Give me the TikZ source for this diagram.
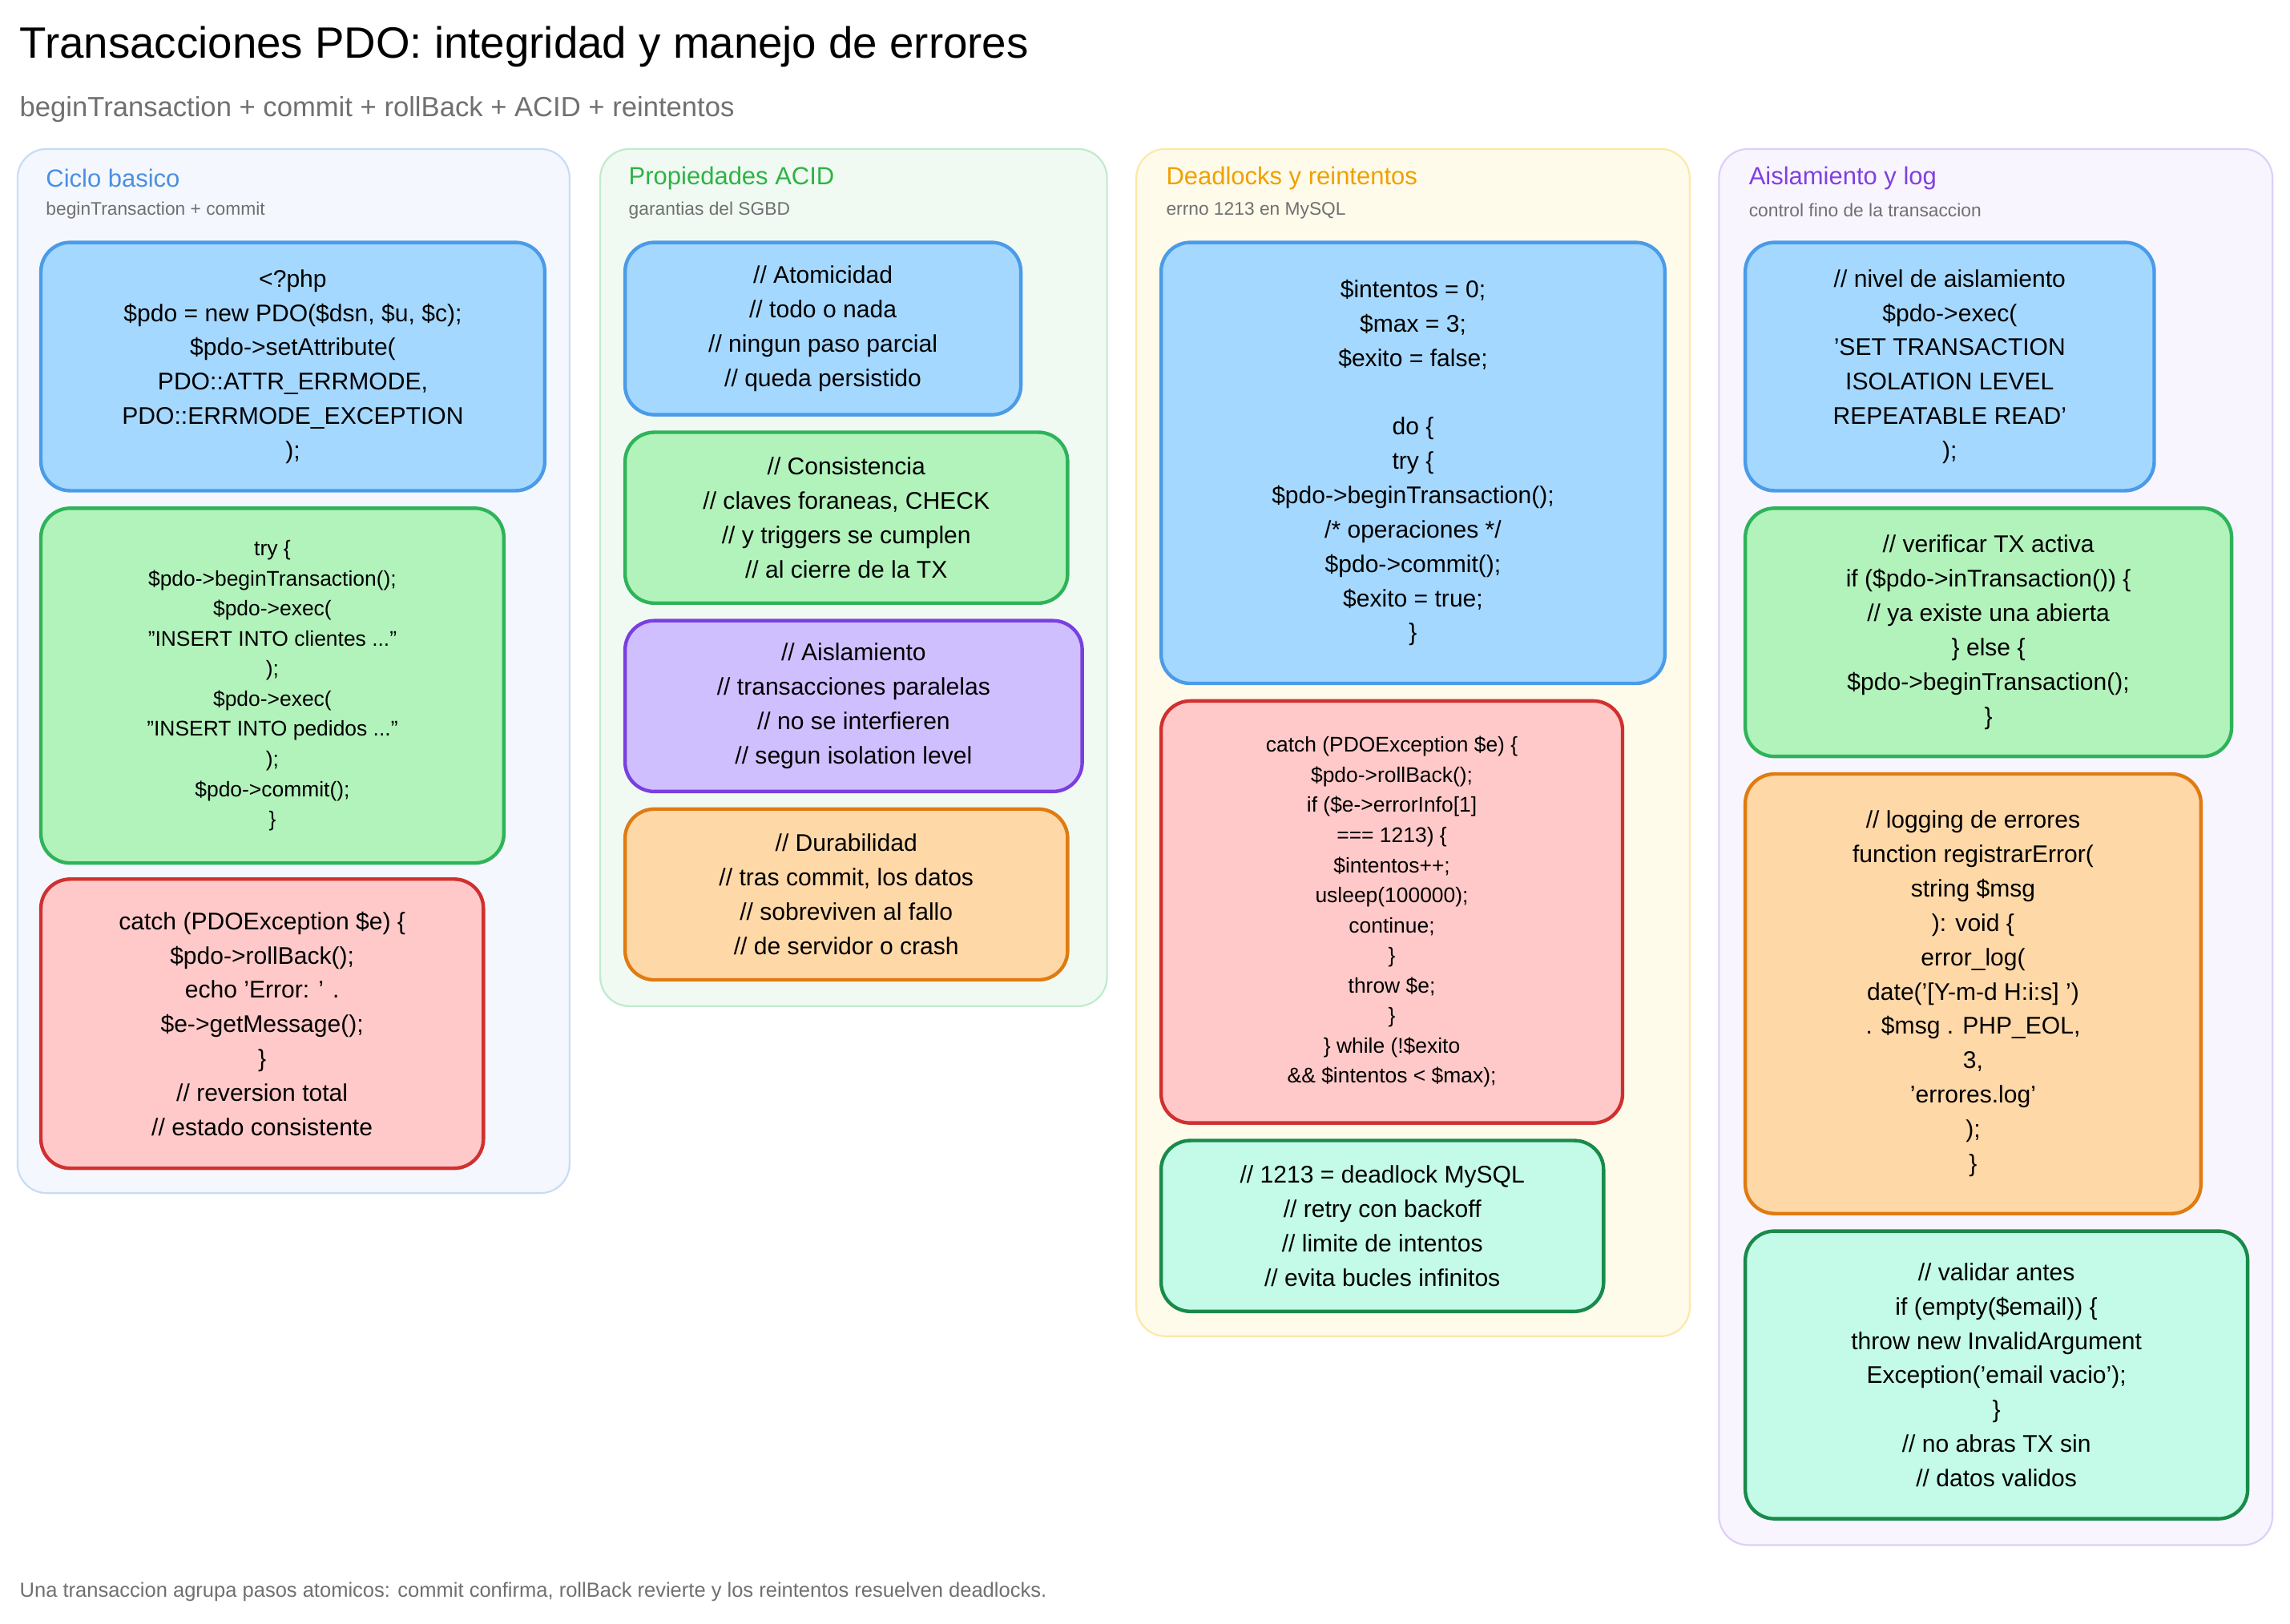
\documentclass[tikz,border=0pt]{standalone}
\usepackage{fontspec}
\setmainfont{Liberation Sans}
\begin{document}
\definecolor{bfill}{HTML}{A5D8FF}\definecolor{bdraw}{HTML}{4A9BE8}
\definecolor{gfill}{HTML}{B2F2BB}\definecolor{gdraw}{HTML}{2FB35A}
\definecolor{rfill}{HTML}{FFC9C9}\definecolor{rdraw}{HTML}{D03030}
\definecolor{pfill}{HTML}{D0BFFF}\definecolor{pdraw}{HTML}{7A3FE0}
\definecolor{ofill}{HTML}{FFD8A8}\definecolor{odraw}{HTML}{E07B10}
\definecolor{tfill}{HTML}{C3FAE8}\definecolor{tdraw}{HTML}{198A4A}
\definecolor{subgray}{HTML}{707070}
\begin{tikzpicture}[x=1pt,y=-1pt,
  panel/.style={rounded corners=20pt,line width=1.2pt},
  ptitle/.style={anchor=west,font=\fontsize{17}{20}\selectfont},
  psub/.style={anchor=west,font=\fontsize{12.5}{15}\selectfont,text=subgray},
  box/.style={rounded corners=20pt,line width=2.4pt,align=center,inner sep=0pt,font=\fontsize{16.5}{23.5}\selectfont},
  small/.style={font=\fontsize{14.5}{20.6}\selectfont},
  B/.style={box,fill=bfill,draw=bdraw},
  G/.style={box,fill=gfill,draw=gdraw},
  R/.style={box,fill=rfill,draw=rdraw},
  P/.style={box,fill=pfill,draw=pdraw},
  O/.style={box,fill=ofill,draw=odraw},
  T/.style={box,fill=tfill,draw=tdraw}]
\useasboundingbox[fill=white] (0,0) rectangle (1568,1112);
\node[anchor=west,font=\fontsize{30}{34}\selectfont] (title) at (10,32) {Transacciones PDO: integridad y manejo de errores};
\node[anchor=west,font=\fontsize{19}{22}\selectfont,text=subgray] (sub) at (10,75) {beginTransaction + commit + rollBack + ACID + reintentos};
% panels
\draw[panel,fill={rgb,255:red,244;green,247;blue,253},draw={rgb,255:red,200;green,220;blue,245}] (12,102) rectangle (390,817);
\draw[panel,fill={rgb,255:red,240;green,250;blue,243},draw={rgb,255:red,192;green,235;blue,204}] (411,102) rectangle (758,689);
\draw[panel,fill={rgb,255:red,255;green,251;blue,235},draw={rgb,255:red,253;green,232;blue,168}] (778,102) rectangle (1157,915);
\draw[panel,fill={rgb,255:red,248;green,245;blue,255},draw={rgb,255:red,221;green,208;blue,250}] (1177,102) rectangle (1556,1058);
\node[ptitle,text={rgb,255:red,74;green,144;blue,226}] (t1) at (28,122) {Ciclo basico};
\node[psub] (s1) at (28,144) {beginTransaction + commit};
\node[ptitle,text={rgb,255:red,47;green,179;blue,68}] (t2) at (427,122) {Propiedades ACID};
\node[psub] (s2) at (427,144) {garantias del SGBD};
\node[ptitle,text={rgb,255:red,240;green,160;blue,0}] (t3) at (795,122) {Deadlocks y reintentos};
\node[psub] (s3) at (795,144) {errno 1213 en MySQL};
\node[ptitle,text={rgb,255:red,128;green,64;blue,224}] (t4) at (1194,122) {Aislamiento y log};
\node[psub] (s4) at (1194,144) {control fino de la transaccion};
% column 1
\node[B,minimum width=345,minimum height=170] (a1) at (200.5,251) {<?php\\ \$pdo = new PDO(\$dsn, \$u, \$c);\\ \$pdo->setAttribute(\\ PDO::ATTR\_ERRMODE,\\ PDO::ERRMODE\_EXCEPTION\\ );};
\node[G,small,minimum width=317,minimum height=243] (a2) at (186.5,469.5) {try \{\\ \$pdo->beginTransaction();\\ \$pdo->exec(\\ "INSERT INTO clientes ..."\\ );\\ \$pdo->exec(\\ "INSERT INTO pedidos ..."\\ );\\ \$pdo->commit();\\ \}};
\node[R,minimum width=303,minimum height=198] (a3) at (179.5,701) {catch (PDOException \$e) \{\\ \$pdo->rollBack();\\ echo 'Error: ' .\\ \$e->getMessage();\\ \}\\ // reversion total\\ // estado consistente};
% column 2
\node[B,minimum width=271,minimum height=118] (b1) at (563.5,225) {// Atomicidad\\ // todo o nada\\ // ningun paso parcial\\ // queda persistido};
\node[G,minimum width=303,minimum height=117] (b2) at (579.5,354.5) {// Consistencia\\ // claves foraneas, CHECK\\ // y triggers se cumplen\\ // al cierre de la TX};
\node[P,minimum width=313,minimum height=117] (b3) at (584.5,483.5) {// Aislamiento\\ // transacciones paralelas\\ // no se interfieren\\ // segun isolation level};
\node[O,minimum width=303,minimum height=117] (b4) at (579.5,612.5) {// Durabilidad\\ // tras commit, los datos\\ // sobreviven al fallo\\ // de servidor o crash};
% column 3
\node[B,minimum width=345,minimum height=302] (c1) at (967.5,317) {\$intentos = 0;\\ \$max = 3;\\ \$exito = false;\\ \mbox{}\\ do \{\\ try \{\\ \$pdo->beginTransaction();\\ /* operaciones */\\ \$pdo->commit();\\ \$exito = true;\\ \}};
\node[R,small,minimum width=316,minimum height=289] (c2) at (953,624.5) {catch (PDOException \$e) \{\\ \$pdo->rollBack();\\ if (\$e->errorInfo[1]\\ === 1213) \{\\ \$intentos++;\\ usleep(100000);\\ continue;\\ \}\\ throw \$e;\\ \}\\ \} while (!\$exito\\ \&\& \$intentos < \$max);};
\node[T,minimum width=303,minimum height=117] (c3) at (946.5,839.5) {// 1213 = deadlock MySQL\\ // retry con backoff\\ // limite de intentos\\ // evita bucles infinitos};
% column 4
\node[B,minimum width=280,minimum height=170] (d1) at (1335,251) {// nivel de aislamiento\\ \$pdo->exec(\\ 'SET TRANSACTION\\ ISOLATION LEVEL\\ REPEATABLE READ'\\ );};
\node[G,minimum width=333,minimum height=170] (d2) at (1361.5,433) {// verificar TX activa\\ if (\$pdo->inTransaction()) \{\\ // ya existe una abierta\\ \} else \{\\ \$pdo->beginTransaction();\\ \}};
\node[O,minimum width=312,minimum height=301] (d3) at (1351,680.5) {// logging de errores\\ function registrarError(\\ string \$msg\\ ): void \{\\ error\_log(\\ date('[Y-m-d H:i:s] ')\\ . \$msg . PHP\_EOL,\\ 3,\\ 'errores.log'\\ );\\ \}};
\node[T,minimum width=344,minimum height=197] (d4) at (1367,941.5) {// validar antes\\ if (empty(\$email)) \{\\ throw new InvalidArgument\\ Exception('email vacio');\\ \}\\ // no abras TX sin\\ // datos validos};
\node[anchor=west,font=\fontsize{14}{17}\selectfont,text=subgray] (foot) at (10,1090) {Una transaccion agrupa pasos atomicos: commit confirma, rollBack revierte y los reintentos resuelven deadlocks.};
\end{tikzpicture}
\end{document}
